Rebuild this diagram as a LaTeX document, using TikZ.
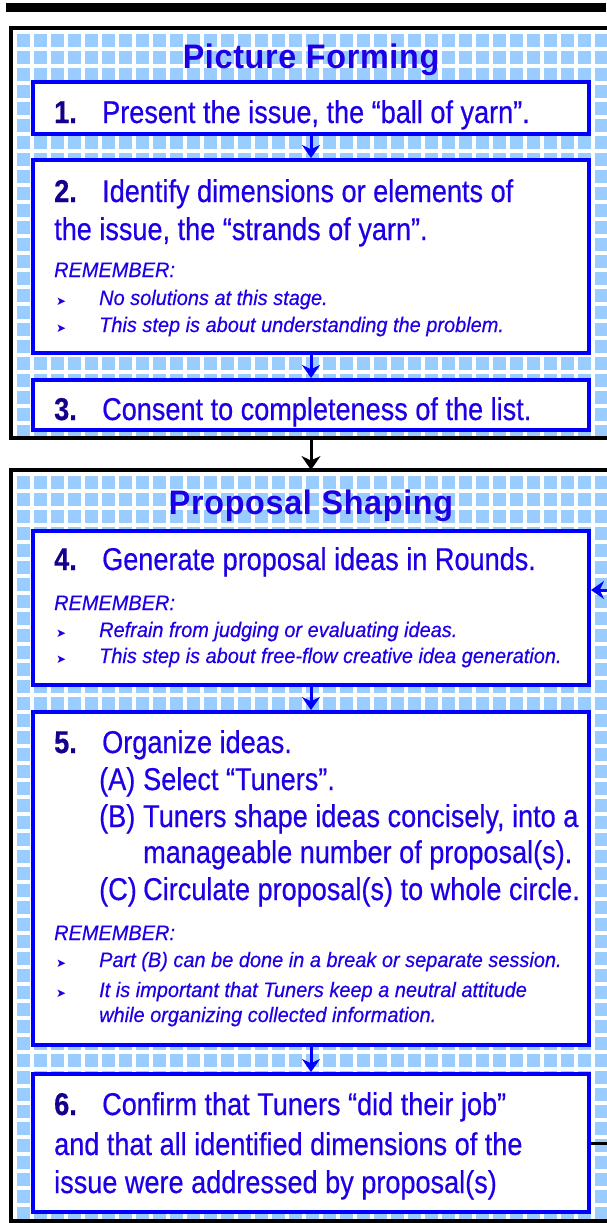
\documentclass[tikz,border=0pt]{standalone}
\usepackage{fontspec}
\setmainfont{Liberation Sans}[FakeStretch=0.95,FakeBold=0.4]
\newfontfamily\stepfont{Liberation Sans}[FakeStretch=0.86,FakeBold=0.5]
\newfontfamily\titlefont{Liberation Sans}[FakeStretch=0.95,LetterSpace=2]
\newfontfamily\symfont{DejaVu Sans}
\usetikzlibrary{arrows.meta}

\definecolor{stepblue}{RGB}{0,0,255}
\definecolor{textblue}{RGB}{30,0,230}
\definecolor{numblue}{RGB}{20,0,140}
\definecolor{checkblue}{RGB}{153,204,255}

\newcommand\stepno[1]{\makebox[48pt][l]{\color{numblue}\bfseries #1}}
\newcommand\remark{\makebox[43pt][l]{\upshape\bfseries\symfont\fontsize{12}{12}\selectfont ➤}}

\begin{document}
\begin{tikzpicture}[x=1pt,y=-1pt,
  gingham/.style={path picture={
    \fill[checkblue] (path picture bounding box.south west) rectangle (path picture bounding box.north east);
    \foreach \i in {0,...,37} {
      \draw[white,line width=4.5pt] ([xshift=\i*17pt+4pt]path picture bounding box.north west) -- ([xshift=\i*17pt+4pt]path picture bounding box.south west);
    }
    \foreach \i in {0,...,45} {
      \draw[white,line width=4.5pt] ([yshift=-\i*17pt-4pt]path picture bounding box.north west) -- ([yshift=-\i*17pt-4pt]path picture bounding box.north east);
    }
  }},
  stagebox/.style={draw=black,line width=3.5pt,gingham,anchor=north west,inner sep=0pt,outer sep=0pt,minimum width=620pt},
  stepbox/.style={draw=stepblue,line width=4pt,fill=white,inner sep=0pt,minimum width=556pt},
  titletext/.style={anchor=base,inner sep=0pt,text=textblue,font=\titlefont\fontsize{34}{40}\selectfont\bfseries},
  steptext/.style={anchor=base west,inner sep=0pt,text=textblue,font=\stepfont\fontsize{31.5}{37}\selectfont},
  remtext/.style={anchor=base west,inner sep=0pt,text=textblue,font=\fontsize{21}{25}\selectfont\itshape},
  steparrow/.style={draw=stepblue,line width=3pt,-{Stealth[length=13pt,width=18pt]}},
  stagearrow/.style={draw=black,line width=3pt,-{Stealth[length=14pt,width=19pt]}}]
\useasboundingbox (0,0) rectangle (606,1223);

% Rule on top
\fill[black] (6,3) rectangle (606,12);

% Stages
\node[stagebox,minimum height=410pt] (pf) at (11,28) {};
\node[stagebox,minimum height=751pt] (ps) at (11,470) {};

\node[titletext] (pftitle) at (311,69) {Picture Forming};
\node[titletext] (pstitle) at (311,514) {Proposal Shaping};

% Steps
\node[stepbox,minimum height=52pt] (b1) at (311,108) {};
\node[stepbox,minimum height=193pt] (b2) at (311,256.5) {};
\node[stepbox,minimum height=50pt] (b3) at (311,405) {};
\node[stepbox,minimum height=154pt] (b4) at (311,608) {};
\node[stepbox,minimum height=333pt] (b5) at (311,878.5) {};
\node[stepbox,minimum height=138pt] (b6) at (311,1143) {};

% Step 1 to 3
\node[steptext] (t1) at (54,123) {\stepno{1.}Present the issue, the “ball of yarn”.};
\node[steptext] (t2a) at (54,202) {\stepno{2.}Identify dimensions or elements of};
\node[steptext] (t2b) at (54,240) {the issue, the “strands of yarn”.};
\node[remtext] (r2) at (54,277) {REMEMBER:};
\node[remtext] (r2a) at (56,305) {\remark No solutions at this stage.};
\node[remtext] (r2b) at (56,332) {\remark This step is about understanding the problem.};
\node[steptext] (t3) at (54,420) {\stepno{3.}Consent to completeness of the list.};

% Step 4 to 6
\node[steptext] (t4) at (54,570) {\stepno{4.}Generate proposal ideas in Rounds.};
\node[remtext] (r4) at (54,610) {REMEMBER:};
\node[remtext] (r4a) at (56,637) {\remark Refrain from judging or evaluating ideas.};
\node[remtext] (r4b) at (56,663) {\remark This step is about free-flow creative idea generation.};

\node[steptext] (t5) at (54,753) {\stepno{5.}Organize ideas.};
\node[steptext] (t5a) at (99,790) {\makebox[44pt][l]{(A)}Select “Tuners”.};
\node[steptext] (t5b) at (99,827) {\makebox[44pt][l]{(B)}Tuners shape ideas concisely, into a};
\node[steptext] (t5c) at (143,863) {manageable number of proposal(s).};
\node[steptext] (t5d) at (99,900) {\makebox[44pt][l]{(C)}Circulate proposal(s) to whole circle.};
\node[remtext] (r5) at (54,940) {REMEMBER:};
\node[remtext] (r5a) at (56,967) {\remark Part (B) can be done in a break or separate session.};
\node[remtext] (r5b) at (56,997) {\remark It is important that Tuners keep a neutral attitude};
\node[remtext] (r5c) at (99,1022) {while organizing collected information.};

\node[steptext] (t6a) at (54,1115) {\stepno{6.}Confirm that Tuners “did their job”};
\node[steptext] (t6b) at (54,1155) {and that all identified dimensions of the};
\node[steptext] (t6c) at (54,1193) {issue were addressed by proposal(s)};

% Arrows
\draw[steparrow] (b1.south) -- (b2.north);
\draw[steparrow] (b2.south) -- (b3.north);
\draw[steparrow] (b4.south) -- (b5.north);
\draw[steparrow] (b5.south) -- (b6.north);
\draw[stagearrow] (b3 |- pf.south) -- (b3 |- ps.north);

% Loop back (leaves the page)
\coordinate (loopin) at (610,590);
\coordinate (loopout) at (612,1143);
\draw[steparrow] (loopin) -- (loopin -| b4.east);
\draw[black,line width=3pt] (b6.east) -- (loopout);
\end{tikzpicture}
\end{document}
